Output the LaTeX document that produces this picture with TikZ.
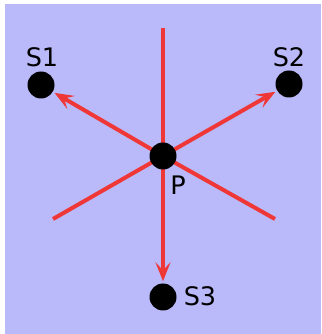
\documentclass[tikz,border=0pt]{standalone}
\usepackage{fontspec}
\setmainfont{DejaVu Sans}
\usetikzlibrary{arrows.meta}
\definecolor{bgcol}{RGB}{186,186,250}
\definecolor{raycol}{RGB}{240,55,55}
\pgfdeclarelayer{back}
\pgfsetlayers{back,main}
\begin{document}
\begin{tikzpicture}[x=1pt,y=1pt,
  dot/.style={circle,fill=black,minimum size=27pt,inner sep=0pt},
  lbl/.style={font=\fontsize{25.5}{30}\selectfont,inner sep=0pt},
  rayline/.style={draw=raycol,line width=4pt},
  arr/.style={rayline,shorten >=2pt,-{Stealth[length=19pt,width=15pt,inset=8pt]}}]
\useasboundingbox (0,0) rectangle (321,334);
\node[dot] (P) at (163,178) {};
\node[dot] (S1) at (41,249) {};
\node[dot] (S2) at (289,250) {};
\node[dot] (S3) at (163,37) {};
\node[lbl] (L1) at (42,277) {S1};
\node[lbl] (L2) at (289,277) {S2};
\node[lbl] (LP) at (178,149) {P};
\node[lbl] (L3) at (200,37.5) {S3};
\coordinate (T) at (163,306);
\coordinate (LL) at (53,115);
\coordinate (LR) at (275,115);
\begin{pgfonlayer}{back}
\fill[bgcol] (5,0) rectangle (321,330);
\draw[rayline] (T) -- (P.center);
\draw[rayline] (LL) -- (P.center);
\draw[rayline] (LR) -- (P.center);
\draw[arr] (P.center) -- (S1);
\draw[arr] (P.center) -- (S2);
\draw[arr] (P.center) -- (S3);
\end{pgfonlayer}
\end{tikzpicture}
\end{document}
